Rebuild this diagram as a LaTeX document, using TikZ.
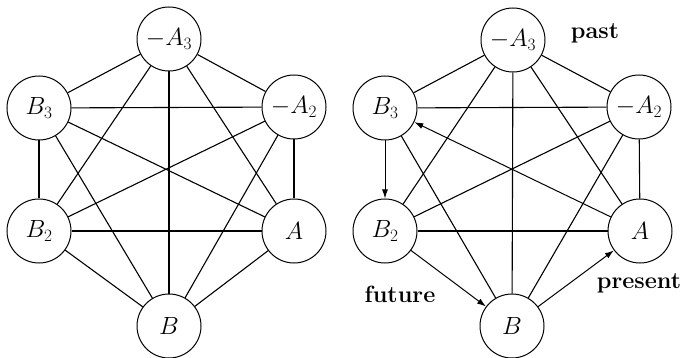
\documentclass[tikz,border=0pt]{standalone}
\usetikzlibrary{arrows.meta}
\begin{document}
\begin{tikzpicture}[x=1pt,y=-1pt,
  vtx/.style={circle,draw,line width=1pt,minimum size=64pt,inner sep=0pt,font=\fontsize{27}{31}\selectfont},
  edge/.style={line width=1.1pt},
  arr/.style={line width=1pt,-{Latex[length=9pt,width=6pt]}},
  lbl/.style={font=\fontsize{23.5}{27}\selectfont\bfseries}]
\useasboundingbox (0,0) rectangle (683,358);
% left graph
\node[vtx] (la3) at (169,39) {$-A_3$};
\node[vtx] (lb3) at (39,108) {$B_3$};
\node[vtx] (la2) at (294,107) {$-A_2$};
\node[vtx] (lb2) at (39,231) {$B_2$};
\node[vtx] (la)  at (294,231) {$A$};
\node[vtx] (lb)  at (169,326) {$B$};
\foreach \u/\v in {la3/lb3,la3/la2,la3/lb2,la3/la,la3/lb,
                   lb3/la2,lb3/lb2,lb3/la,lb3/lb,
                   la2/lb2,la2/la,la2/lb,
                   lb2/la,lb2/lb,la/lb}
  \draw[edge] (\u) -- (\v);
% right graph
\node[vtx] (ra3) at (513,40) {$-A_3$};
\node[vtx] (rb3) at (385,108) {$B_3$};
\node[vtx] (ra2) at (639,107) {$-A_2$};
\node[vtx] (rb2) at (385,231) {$B_2$};
\node[vtx] (ra)  at (640,231) {$A$};
\node[vtx] (rb)  at (512,326) {$B$};
\foreach \u/\v in {ra3/rb3,ra3/ra2,ra3/rb2,ra3/ra,ra3/rb,
                   rb3/ra2,rb3/rb,
                   ra2/rb2,ra2/ra,ra2/rb,
                   rb2/ra}
  \draw[edge] (\u) -- (\v);
\draw[arr] (rb3) -- (rb2);
\draw[arr] (rb2) -- (rb);
\draw[arr] (rb) -- (ra);
\draw[arr] (ra) -- (rb3);
\node[lbl] (past) at (595,33) {past};
\node[lbl] (present) at (639,283) {present};
\node[lbl] (future) at (400,294) {future};
\end{tikzpicture}
\end{document}
